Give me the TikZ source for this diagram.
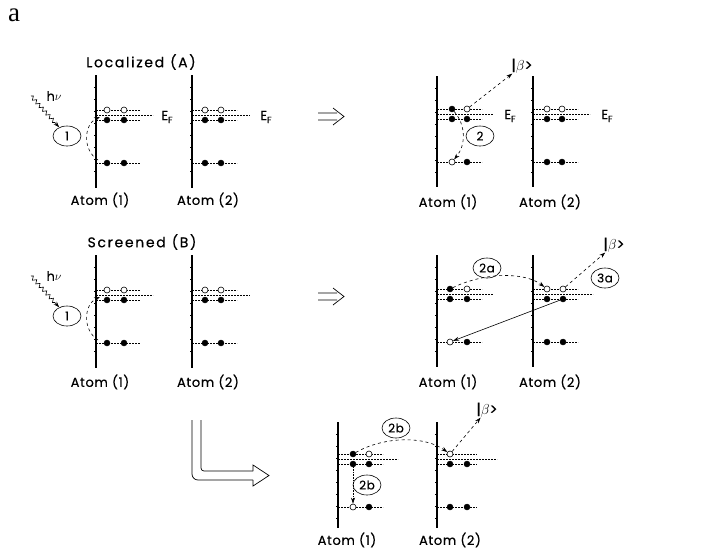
\documentclass[tikz,border=0pt]{standalone}
\usepackage{fontspec}
\setmainfont{Poppins}[LetterSpace=5, FakeBold=0.4]
\newfontfamily\serifa{Liberation Serif}
\newfontfamily\ttlfont{Poppins}[LetterSpace=12, FakeBold=0.4]
\usetikzlibrary{arrows.meta,shapes.geometric,decorations.pathmorphing}
\tikzset{
  axisline/.style={line width=1.2pt},
  lev/.style={line width=0.8pt, dash pattern=on 2.2pt off 0.8pt},
  fe/.style={circle, fill=black, draw=black, line width=0.4pt, inner sep=0pt, minimum size=6pt},
  oe/.style={circle, fill=white, draw=black, line width=0.6pt, inner sep=0pt, minimum size=6pt},
  tag/.style={ellipse, draw, line width=0.6pt, inner sep=0.5pt, minimum width=28pt, minimum height=20pt, font=\fontsize{12}{12}\selectfont},
  conn/.style={line width=0.6pt, -{Stealth[length=6pt,width=4pt]}},
  txt/.style={font=\fontsize{13}{13}\selectfont, inner sep=0pt},
  ttl/.style={font=\ttlfont\fontsize{14}{14}\selectfont, inner sep=0pt},
  sym/.style={line width=0.7pt},
  wavy/.style={conn, decorate, decoration={snake, amplitude=1.8pt, segment length=5pt, post length=6pt}}
}
% x, y of top level, axis top, axis bottom, level length, Ef length
\newcommand\atomaxis[6]{%
  \draw[axisline] (#1,#3) -- (#1,#4);
  \foreach \k in {1,...,8} \draw[line width=0.4pt] (#1-2,{#3+\k*12}) -- (#1,{#3+\k*12});
  \draw[lev] (#1,#2) -- ++(#5,0);
  \draw[lev] (#1,#2+5) -- ++(#6,0);
  \draw[lev] (#1,#2+10) -- ++(#5,0);
  \draw[lev] (#1,#2+53) -- ++(#5,0);
}
\newcommand\EF{E\raisebox{-3pt}{\fontsize{9}{9}\selectfont F}}
\begin{document}
\begin{tikzpicture}[x=1pt,y=-1pt]
\useasboundingbox (0,0) rectangle (709,552);
\node[font=\serifa\fontsize{27}{27}\selectfont, inner sep=0pt] (lbla) at (14,15) {a};

% ================= Panel A left =================
\node[ttl] (ttlA) at (141,62) {Localized\hspace{6pt}(A)};
\atomaxis{96}{110}{75}{188}{44}{57}
\atomaxis{192}{110}{75}{188}{45}{58}
\node[oe] (al1t1) at (107,110) {}; \node[oe] (al1t2) at (124,110) {};
\node[fe] (al1f1) at (107,120) {}; \node[fe] (al1f2) at (124,120) {};
\node[fe] (al1l1) at (107,163) {}; \node[fe] (al1l2) at (124,163) {};
\node[oe] (al2t1) at (205,110) {}; \node[oe] (al2t2) at (221,110) {};
\node[fe] (al2f1) at (205,120) {}; \node[fe] (al2f2) at (221,120) {};
\node[fe] (al2l1) at (205,163) {}; \node[fe] (al2l2) at (221,163) {};
\node[txt] (efA1) at (167,117) {\EF};
\node[txt] (efA2) at (266,117) {\EF};
\node[txt] (atA1) at (100,200) {Atom (1)};
\node[txt] (atA2) at (208,200) {Atom (2)};
\node[tag] (c1A) at (67,136) {1};
\node[txt] (hvA) at (54,96) {h$\nu$};
\coordinate (wA) at (31,96);
\draw[wavy] (wA) -- (c1A);
\coordinate (qA1) at (98,160);
\coordinate (qA2) at (100,117);
\draw[conn, dashed] (qA1) .. controls (82,150) and (84,124) .. (qA2);

% ================= Panel A right =================
\atomaxis{437}{109}{76}{187}{45}{56}
\atomaxis{533}{109}{76}{187}{45}{57}
\node[fe] (ar1t1) at (452,109) {}; \node[oe] (ar1t2) at (467,109) {};
\node[fe] (ar1f1) at (452,119) {}; \node[fe] (ar1f2) at (467,119) {};
\node[oe] (ar1l1) at (452,162) {}; \node[fe] (ar1l2) at (467,162) {};
\node[oe] (ar2t1) at (547,109) {}; \node[oe] (ar2t2) at (562,109) {};
\node[fe] (ar2f1) at (547,119) {}; \node[fe] (ar2f2) at (562,119) {};
\node[fe] (ar2l1) at (547,162) {}; \node[fe] (ar2l2) at (562,162) {};
\node[txt] (efA3) at (510,116) {\EF};
\node[txt] (efA4) at (607,116) {\EF};
\node[txt] (atA3) at (448,202) {Atom (1)};
\node[txt] (atA4) at (550,202) {Atom (2)};
\node[tag] (c2A) at (480,136) {2};
\node[font=\fontsize{15}{15}\selectfont, inner sep=0pt] (bA) at (522,66) {|$\beta$>};
\draw[conn, dashed] (ar1t1) .. controls (466,125) and (466,145) .. (ar1l1);
\draw[conn, dashed] (ar1t2) -- (bA);

% ================= Panel B left =================
\node[ttl] (ttlB) at (142,242) {Screened\hspace{6pt}(B)};
\atomaxis{96}{290}{255}{368}{44}{57}
\atomaxis{192}{290}{255}{368}{45}{58}
\node[oe] (bl1t1) at (107,290) {}; \node[oe] (bl1t2) at (124,290) {};
\node[fe] (bl1f1) at (107,300) {}; \node[fe] (bl1f2) at (124,300) {};
\node[fe] (bl1l1) at (107,343) {}; \node[fe] (bl1l2) at (124,343) {};
\node[oe] (bl2t1) at (205,290) {}; \node[oe] (bl2t2) at (221,290) {};
\node[fe] (bl2f1) at (205,300) {}; \node[fe] (bl2f2) at (221,300) {};
\node[fe] (bl2l1) at (205,343) {}; \node[fe] (bl2l2) at (221,343) {};
\node[txt] (atB1) at (100,382) {Atom (1)};
\node[txt] (atB2) at (208,382) {Atom (2)};
\node[tag] (c1B) at (67,316) {1};
\node[txt] (hvB) at (54,276) {h$\nu$};
\coordinate (wB) at (31,276);
\draw[wavy] (wB) -- (c1B);
\coordinate (qB1) at (98,340);
\coordinate (qB2) at (100,297);
\draw[conn, dashed] (qB1) .. controls (82,330) and (84,304) .. (qB2);

% ================= Panel B right =================
\atomaxis{437}{289}{255}{367}{45}{56}
\atomaxis{533}{289}{255}{367}{45}{60}
\node[fe] (br1t1) at (450,289) {}; \node[oe] (br1t2) at (467,289) {};
\node[fe] (br1f1) at (450,299) {}; \node[fe] (br1f2) at (467,299) {};
\node[oe] (br1l1) at (450,342) {}; \node[fe] (br1l2) at (467,342) {};
\node[oe] (br2t1) at (547,289) {}; \node[oe] (br2t2) at (563,289) {};
\node[fe] (br2f1) at (547,299) {}; \node[fe] (br2f2) at (563,299) {};
\node[fe] (br2l1) at (547,342) {}; \node[fe] (br2l2) at (563,342) {};
\node[txt] (atB3) at (448,382) {Atom (1)};
\node[txt] (atB4) at (550,382) {Atom (2)};
\node[tag] (c2a) at (487,268) {2a};
\node[tag] (c3a) at (605,278) {3a};
\node[font=\fontsize{15}{15}\selectfont, inner sep=0pt] (bB) at (614,245) {|$\beta$>};
\draw[conn, dashed] (br1t1) .. controls (485,272) and (525,272) .. (br2t1);
\draw[conn] (br2f2) -- (br1l1);
\draw[conn, dashed] (br2t2) -- (bB);

% ================= Panel C bottom =================
\atomaxis{338}{454}{422}{528}{45}{60}
\atomaxis{437}{454}{422}{528}{40}{60}
\node[fe] (c1t1) at (353,454) {}; \node[oe] (c1t2) at (369,454) {};
\node[fe] (c1f1) at (353,464) {}; \node[fe] (c1f2) at (369,464) {};
\node[oe] (c1l1) at (353,507) {}; \node[fe] (c1l2) at (369,507) {};
\node[oe] (c2t1) at (450,454) {};
\node[fe] (c2f1) at (450,464) {}; \node[fe] (c2f2) at (467,464) {};
\node[fe] (c2l1) at (450,507) {}; \node[fe] (c2l2) at (467,507) {};
\node[txt] (atC1) at (347,540) {Atom (1)};
\node[txt] (atC2) at (450,540) {Atom (2)};
\node[tag] (c2bu) at (396,428) {2b};
\node[tag] (c2bl) at (367,485) {2b};
\node[font=\fontsize{15}{15}\selectfont, inner sep=0pt] (bC) at (487,410) {|$\beta$>};
\draw[conn, dashed] (c1t1) .. controls (385,436) and (425,436) .. (c2t1);
\draw[conn, densely dotted] (c1f1) -- (c1l1);
\draw[conn, dashed] (c2t1) -- (bC);

% ================= implication arrows =================
\draw[sym] (318,113) -- (337,113) (318,120) -- (337,120) (333,108) -- (344,116.5) -- (333,125);
\draw[sym] (318,293) -- (337,293) (318,300) -- (337,300) (333,288) -- (344,296.5) -- (333,305);

% ================= hollow L arrow =================
\draw[sym, rounded corners=6pt] (192,420) -- (192,480) -- (253,480);
\draw[sym] (253,480) -- (253,486) -- (269,475.5) -- (253,465) -- (253,471);
\draw[sym, rounded corners=3pt] (253,471) -- (201,471) -- (201,420);
\end{tikzpicture}
\end{document}
